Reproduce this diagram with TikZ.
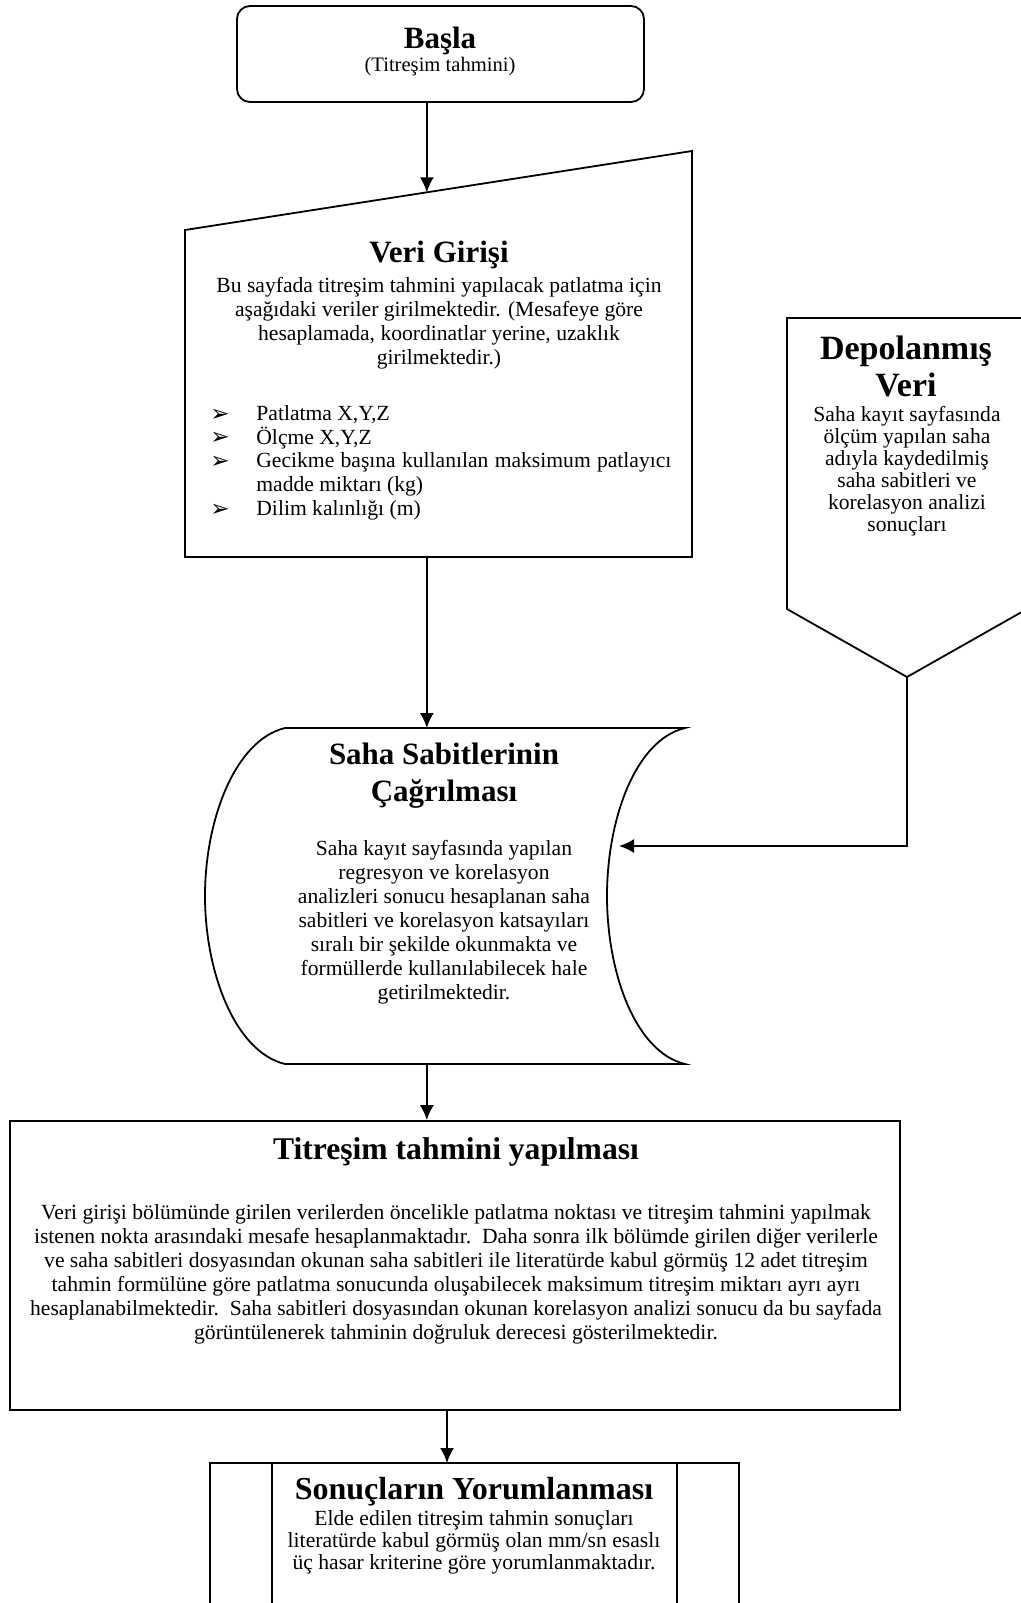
\documentclass[tikz,border=0pt]{standalone}
\usepackage{fontspec}
\setmainfont{Liberation Serif}
\newfontfamily\symfont{DejaVu Sans}
\usepackage{tikz}
\usetikzlibrary{positioning,calc,arrows.meta}
\tikzset{
  flowline/.style = {line width=0.9pt},
  arrow/.style    = {flowline, -{Latex[length=7.5pt,width=7pt]}},
  startbox/.style = {shape=rectangle, rounded corners=6.5pt, draw, line width=0.9pt,
                     minimum width=203.5pt, minimum height=48pt},
  plainbox/.style = {shape=rectangle, draw, line width=0.9pt, inner sep=0pt},
  title/.style    = {font=\fontsize{15.5}{18.5}\selectfont\bfseries, align=center, inner sep=0pt},
  bigtitle/.style = {font=\fontsize{17}{18.5}\selectfont\bfseries, align=center, inner sep=0pt},
  body/.style     = {font=\fontsize{10.8}{12}\selectfont, align=center, inner sep=0pt},
  tightbody/.style= {font=\fontsize{10.8}{11}\selectfont, align=center, inner sep=0pt},
  subtitle/.style = {font=\fontsize{10.3}{12}\selectfont, inner sep=0pt},
  bullet/.style   = {font=\symfont\fontsize{11.5}{12}\selectfont, inner sep=0pt, anchor=west}
}

\begin{document}
\begin{tikzpicture}[x=0.5pt, y=-0.5pt]
 \useasboundingbox (0,0) rectangle (1021,1603);
 \clip (0,0) rectangle (1021,1603);

 % baslangic
 \node [startbox] (basla) at (440.5,54) {};
 \node [title] (baslik) at (440,41) {Başla};
 \node [subtitle] (altbaslik) at (440,67) {(Titreşim tahmini)};

 % veri girisi (el ile giris)
 \coordinate (vtl) at (185,230);
 \coordinate (vtr) at (692,151);
 \coordinate (vbr) at (692,557);
 \coordinate (vbl) at (185,557);
 \coordinate (vin) at ($(vtl)!0.477!(vtr)$);
 \draw [flowline] (vtl) -- (vtr) -- (vbr) -- (vbl) -- cycle;
 \node [title] (veri) at (439,255) {Veri Girişi};
 \node [body] (veritext) at (439,323)
   {Bu sayfada titreşim tahmini yapılacak patlatma için\\
    aşağıdaki veriler girilmektedir. (Mesafeye göre\\
    hesaplamada, koordinatlar yerine, uzaklık\\
    girilmektedir.)};
 \foreach \y/\txt in {415/{Patlatma X,Y,Z}, 438/{Ölçme X,Y,Z},
                      462/{\makebox[207.5pt][s]{Gecikme başına kullanılan maksimum patlayıcı}},
                      510/{Dilim kalınlığı (m)}}{
   \node [bullet] at (210,\y) {➢};
   \node [body, anchor=west] at (256,\y) {\txt};
 }
 \node [body, anchor=west] (madde) at (256,486) {madde miktarı (kg)};

 % depolanmis veri (sayfa disi baglanti)
 \coordinate (d1) at (787,318);
 \coordinate (d2) at (1027,318);
 \coordinate (d3) at (1027,609);
 \coordinate (dp) at (907,677);
 \coordinate (d5) at (787,609);
 \draw [flowline] (d1) -- (d2) -- (d3) -- (dp) -- (d5) -- cycle;
 \node [bigtitle] (depo) at (906,366) {Depolanmış\\Veri};
 \node [tightbody] (depotext) at (907,471)
   {Saha kayıt sayfasında\\
    ölçüm yapılan saha\\
    adıyla kaydedilmiş\\
    saha sabitleri ve\\
    korelasyon analizi\\
    sonuçları};

 % saha sabitlerinin cagrilmasi (depolanmis veri sekli)
 \coordinate (stl) at (285,728);
 \coordinate (str) at (685,728);
 \coordinate (sbl) at (285,1064);
 \coordinate (sbr) at (685,1064);
 \coordinate (sahain) at (619,846);
 \draw [flowline] (stl) -- (str)
   .. controls (635,740) and (607,820) .. (607,896)
   .. controls (607,972) and (635,1052) .. (sbr)
   -- (sbl)
   .. controls (235,1052) and (205,972) .. (205,896)
   .. controls (205,820) and (235,740) .. (stl) -- cycle;
 \node [title] (saha) at (444,776) {Saha Sabitlerinin\\Çağrılması};
 \node [body] (sahatext) at (444,922)
   {Saha kayıt sayfasında yapılan\\
    regresyon ve korelasyon\\
    analizleri sonucu hesaplanan saha\\
    sabitleri ve korelasyon katsayıları\\
    sıralı bir şekilde okunmakta ve\\
    formüllerde kullanılabilecek hale\\
    getirilmektedir.};

 % titresim tahmini
 \node [plainbox, minimum width=445pt, minimum height=144.5pt] (tahmin) at (455,1265.5) {};
 \node [title, font=\fontsize{15.8}{18.5}\selectfont\bfseries] (tahminbaslik) at (456,1152)
   {Titreşim tahmini yapılması};
 \node [body] (tahmintext) at (456,1274)
   {Veri girişi bölümünde girilen verilerden öncelikle patlatma noktası ve titreşim tahmini yapılmak\\
    istenen nokta arasındaki mesafe hesaplanmaktadır.\ \ Daha sonra ilk bölümde girilen diğer verilerle\\
    ve saha sabitleri dosyasından okunan saha sabitleri ile literatürde kabul görmüş 12 adet titreşim\\
    tahmin formülüne göre patlatma sonucunda oluşabilecek maksimum titreşim miktarı ayrı ayrı\\
    hesaplanabilmektedir.\ \ Saha sabitleri dosyasından okunan korelasyon analizi sonucu da bu sayfada\\
    görüntülenerek tahminin doğruluk derecesi gösterilmektedir.};

 % sonuclarin yorumlanmasi (alt islem)
 \node [plainbox, minimum width=264.5pt, minimum height=90pt] (sonuc) at (474.5,1553) {};
 \draw [flowline] ([xshift=31.5pt]sonuc.north west) -- ([xshift=31.5pt]sonuc.south west);
 \draw [flowline] ([xshift=-31.5pt]sonuc.north east) -- ([xshift=-31.5pt]sonuc.south east);
 \coordinate (sonucin) at (447,1463);
 \node [title, font=\fontsize{16}{18.5}\selectfont\bfseries] (sonucbaslik) at (474,1492)
   {Sonuçların Yorumlanması};
 \node [tightbody] (sonuctext) at (474,1542)
   {Elde edilen titreşim tahmin sonuçları\\
    literatürde kabul görmüş olan mm/sn esaslı\\
    üç hasar kriterine göre yorumlanmaktadır.};

 % baglantilar
 \draw [arrow] (basla.south -| vin) -- (vin);
 \draw [arrow] (vbl -| vin) -- (stl -| vin);
 \draw [arrow] (sbl -| vin) -- (tahmin.north -| vin);
 \draw [arrow] (dp) |- (sahain);
 \draw [arrow] (tahmin.south -| sonucin) -- (sonucin);
\end{tikzpicture}
\end{document}
